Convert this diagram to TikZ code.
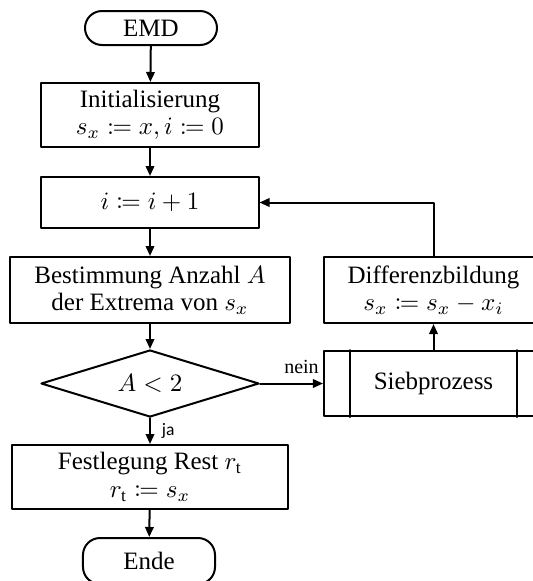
\documentclass[tikz,border=0pt]{standalone}
\usepackage{mathtools}
\usepackage{fontspec}
\setmainfont{Liberation Serif}
\newfontfamily\labelsans{Carlito}
\usetikzlibrary{arrows.meta,shapes.geometric}
\tikzset{
  flowline/.style={line width=0.8pt, -{Triangle[length=4pt,width=3.4pt]}},
  procbox/.style={draw, line width=0.8pt, align=center, inner sep=0pt},
  termbox/.style={draw, line width=0.8pt, rounded corners=6.8pt, inner sep=0pt},
  decbox/.style={draw, line width=0.8pt, diamond, aspect=3.25, inner sep=0pt},
}
\begin{document}
\begin{tikzpicture}[x=0.4pt, y=-0.4pt, line cap=round, line join=round]
  \useasboundingbox (0,0) rectangle (533,581);

  \node[termbox, minimum width=52.8pt, minimum height=13.6pt] (start) at (151,28) {EMD};
  \node[procbox, minimum width=86.8pt, minimum height=25.6pt] (init) at (150,115)
    {Initialisierung\\[-1pt] $s_x \coloneqq x, i \coloneqq 0$};
  \node[procbox, minimum width=86.8pt, minimum height=20.4pt] (inc) at (150,202.5)
    {$i \coloneqq i+1$};
  \node[procbox, minimum width=111.6pt, minimum height=26.4pt] (det) at (150,290)
    {Bestimmung Anzahl $A$\\[-1pt] der Extrema von $s_x$};
  \node[decbox, minimum width=87.2pt, minimum height=26.8pt] (dec) at (150,383.5)
    {$A<2$};
  \node[procbox, minimum width=87.6pt, minimum height=26pt] (sieve) at (433.5,383.5)
    {Siebprozess};
  \node[procbox, minimum width=87.6pt, minimum height=26.4pt] (diff) at (433.5,290)
    {Differenzbildung\\[-1pt] $s_x \coloneqq s_x - x_i$};
  \node[procbox, minimum width=110.4pt, minimum height=25.6pt] (rest) at (150,477)
    {Festlegung Rest $r_{\mathrm{t}}$\\[-1pt] $r_{\mathrm{t}} \coloneqq s_x$};
  \node[termbox, minimum width=52.8pt, minimum height=18.4pt] (stop) at (149,561) {Ende};

  % Siebprozess als vordefinierter Prozess
  \draw[line width=0.8pt] ([xshift=10.8pt]sieve.north west) -- ([xshift=10.8pt]sieve.south west);
  \draw[line width=0.8pt] ([xshift=-10.8pt]sieve.north east) -- ([xshift=-10.8pt]sieve.south east);

  \draw[flowline] (start) -- (init);
  \draw[flowline] (init) -- (inc);
  \draw[flowline] (inc) -- (det);
  \draw[flowline] (det) -- (dec);
  \draw[flowline] (dec) -- node[right, font=\labelsans\scriptsize, xshift=1pt] {ja} (rest);
  \draw[flowline] (dec) -- node[above, font=\footnotesize, xshift=4pt] {nein} (sieve);
  \draw[flowline] (sieve) -- (diff);
  \draw[flowline] (diff.north) |- (inc.east);
  \draw[flowline] (rest) -- (stop);
\end{tikzpicture}
\end{document}
